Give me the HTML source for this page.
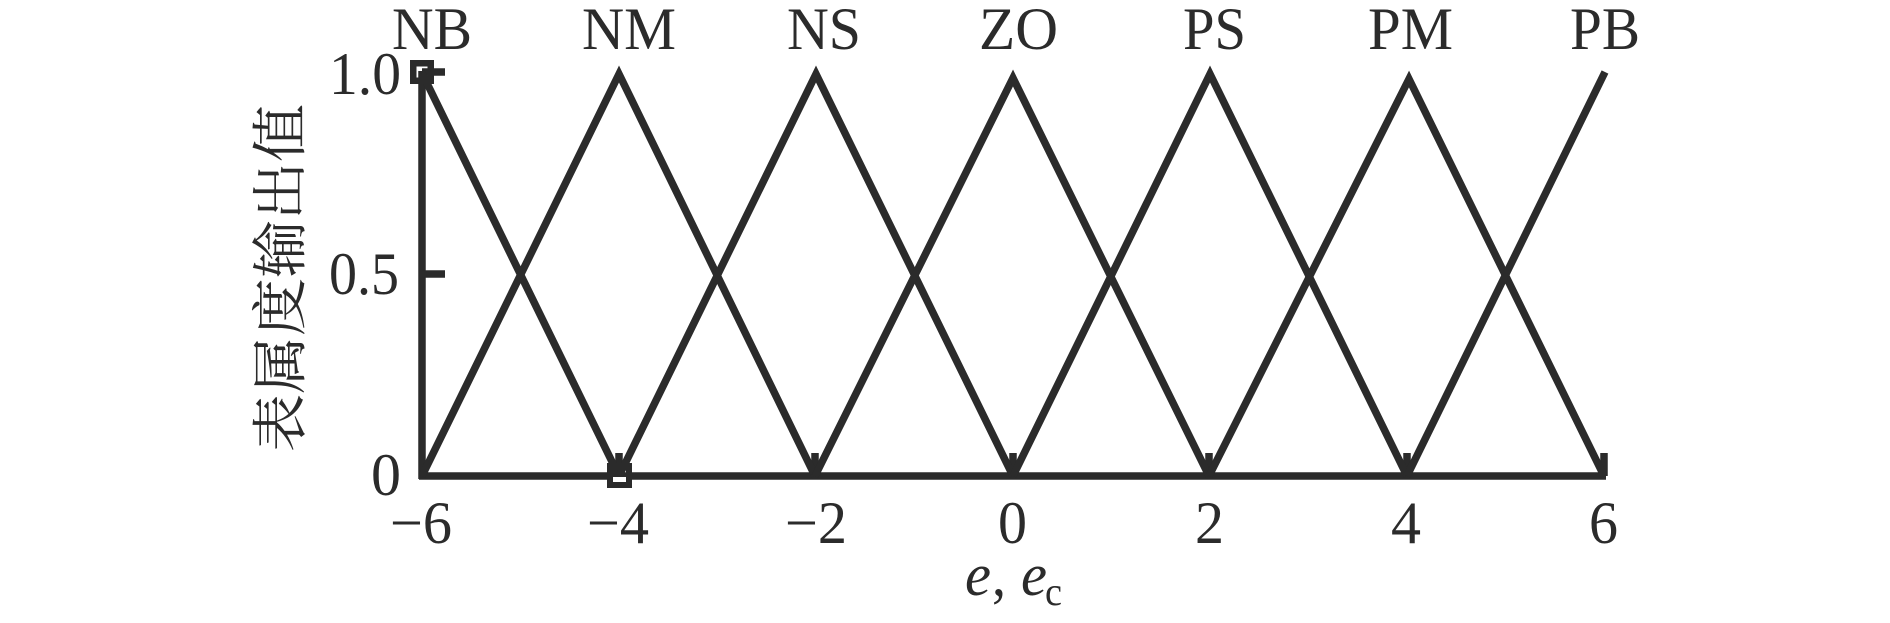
<!DOCTYPE html>
<html><head><meta charset="utf-8"><style>
html,body{margin:0;padding:0;background:#fff}
svg{display:block}
text{font-family:"Liberation Serif","Noto Serif CJK SC",serif;fill:#2b2b2b;font-size:60px}
</style></head><body>
<svg width="1890" height="623" viewBox="0 0 1890 623" xmlns="http://www.w3.org/2000/svg">
<rect width="1890" height="623" fill="#fff"/>
<g fill="none" stroke="#2b2b2b" stroke-width="7.5" stroke-miterlimit="10">
<path d="M422 71V479M419 476H1606"/>
<path d="M422 72H445M422 274H445"/>
<path d="M619 476V453M815 476V453M1013 476V453M1209 476V453M1407 476V453M1604 476V453"/>
<path d="M422 73L619 476"/>
<polyline points="422,476 619,74 815,476"/>
<polyline points="619,476 816,74 1013,476"/>
<polyline points="815,476 1013,78 1209,476"/>
<polyline points="1013,476 1210,74 1407,476"/>
<polyline points="1209,476 1409,79 1604,476"/>
<path d="M1407 476L1605 72"/>
<rect x="612.5" y="477" width="14" height="6" fill="#fff" stroke="none"/>
<rect x="413.25" y="63.25" width="17.5" height="17.5" stroke-width="6.5"/>
<rect x="610" y="466" width="19" height="19" stroke-width="6"/>
</g>
<g>
<text x="392" y="49" textLength="80" lengthAdjust="spacingAndGlyphs">NB</text>
<text x="582" y="49" textLength="94" lengthAdjust="spacingAndGlyphs">NM</text>
<text x="787" y="49" textLength="74" lengthAdjust="spacingAndGlyphs">NS</text>
<text x="979" y="49" textLength="79" lengthAdjust="spacingAndGlyphs">ZO</text>
<text x="1183" y="49" textLength="63" lengthAdjust="spacingAndGlyphs">PS</text>
<text x="1368" y="49" textLength="85" lengthAdjust="spacingAndGlyphs">PM</text>
<text x="1570" y="49" textLength="70" lengthAdjust="spacingAndGlyphs">PB</text>

<text x="329" y="94" textLength="72" lengthAdjust="spacingAndGlyphs">1.0</text>
<text x="329" y="294" textLength="70" lengthAdjust="spacingAndGlyphs">0.5</text>
<text x="371" y="495" textLength="30" lengthAdjust="spacingAndGlyphs">0</text>

<text x="390" y="543" textLength="62" lengthAdjust="spacingAndGlyphs">−6</text>
<text x="587" y="543" textLength="62" lengthAdjust="spacingAndGlyphs">−4</text>
<text x="785" y="543" textLength="62" lengthAdjust="spacingAndGlyphs">−2</text>
<text x="998" y="543" textLength="29" lengthAdjust="spacingAndGlyphs">0</text>
<text x="1195" y="543" textLength="29" lengthAdjust="spacingAndGlyphs">2</text>
<text x="1391" y="543" textLength="30" lengthAdjust="spacingAndGlyphs">4</text>
<text x="1589" y="543" textLength="29" lengthAdjust="spacingAndGlyphs">6</text>

<text x="965" y="595" font-style="italic" textLength="26" lengthAdjust="spacingAndGlyphs">e</text>
<text x="992" y="595" textLength="14" lengthAdjust="spacingAndGlyphs">,</text>
<text x="1021" y="595" font-style="italic" textLength="26" lengthAdjust="spacingAndGlyphs">e</text>
<text x="1045" y="605" style="font-size:40px" textLength="17" lengthAdjust="spacingAndGlyphs">c</text>

<text transform="translate(300,452) rotate(-90)" style="font-size:56px;font-family:'Noto Serif CJK SC','Liberation Serif',serif" textLength="348" lengthAdjust="spacingAndGlyphs">表属度输出值</text>
</g>
</svg>
</body></html>
